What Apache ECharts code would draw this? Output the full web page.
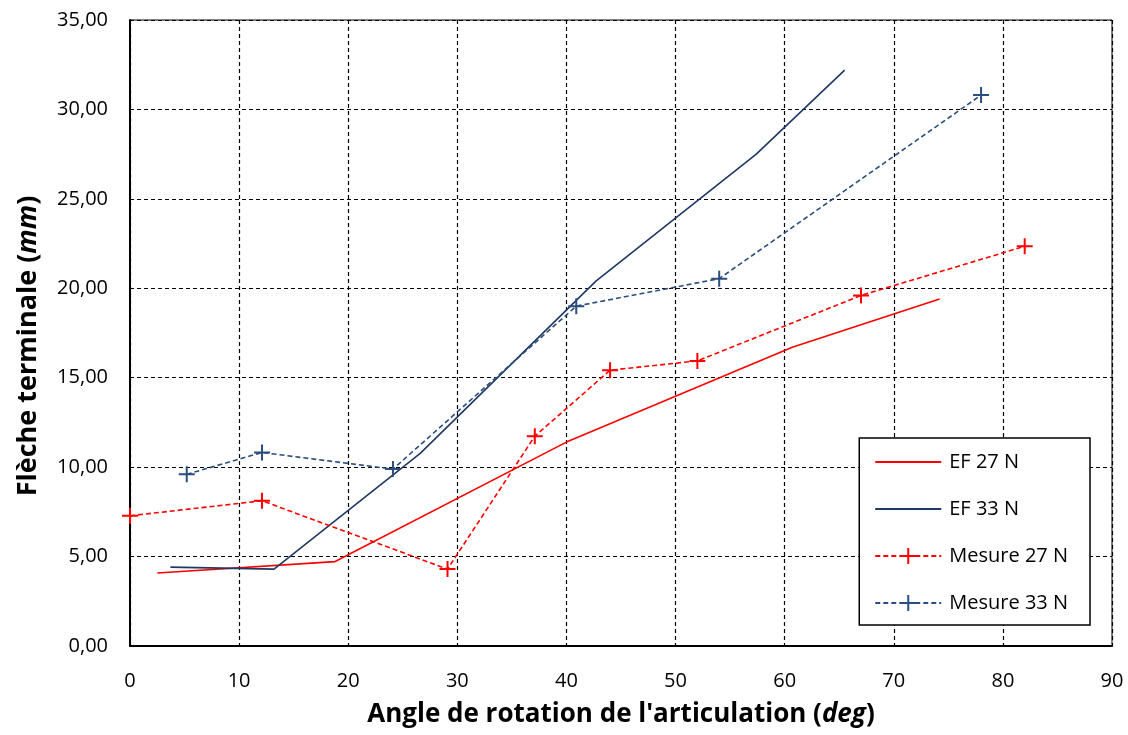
<!DOCTYPE html>
<html>
<head>
<meta charset="utf-8">
<script src="https://cdn.jsdelivr.net/npm/echarts@6/dist/echarts.min.js"></script>
<style>
html, body { margin: 0; padding: 0; background: #fff; }
#chart { width: 1128px; height: 735px; }
</style>
</head>
<body>
<div id="chart"></div>
<script>
// valeurs : [angle (deg), flèche (mm)]
var ef27 = [[2.5, 4.08], [18.8, 4.72], [40, 11.4], [60.7, 16.7], [74.2, 19.4]];
var ef33 = [[3.7, 4.41], [13.2, 4.3], [26.6, 10.77], [42.7, 20.4], [57.4, 27.5], [65.5, 32.2]];
var mesure27 = [[0, 7.28], [12.1, 8.12], [29.1, 4.3], [37.1, 11.73], [44.0, 15.42], [52.0, 15.94], [67.0, 19.6], [82.0, 22.35]];
var mesure33 = [[5.2, 9.6], [12.1, 10.82], [24.1, 9.89], [40.9, 19.0], [54.0, 20.54], [78.0, 30.8]];

var seriesNames = ['EF 27 N', 'EF 33 N', 'Mesure 27 N', 'Mesure 33 N'];
var xTicks = { min: 0, max: 90, interval: 10 };
var yTicks = { min: 0, max: 35, interval: 5 };

var red = '#ff0000';
var navy = '#1f3864';
var navy2 = '#2a4e7e';
var font = '"Open Sans", sans-serif';

var chart = echarts.init(document.getElementById('chart'));

//style commun des séries
function courbe(name, data, color, dashed) {
    return {
        name: name,
        type: 'line',
        data: data,
        showSymbol: dashed,
        symbol: dashed ? 'path://M0,5 L10,5 M5,0 L5,10' : 'none',
        symbolSize: 16,
        itemStyle: { color: 'rgba(0,0,0,0)', borderColor: color, borderWidth: 2 },
        lineStyle: { color: color, width: 1.6, type: dashed ? [5, 3] : 'solid' },
        emphasis: { disabled: true },
        animation: false
    };
}

//légende : pas de symbole pour les courbes EF
var legendData = seriesNames.map(function (n, i) {
    return i < 2 ? { name: n, itemStyle: { opacity: 0 } } : { name: n };
});

function titleRich(size) {
    return {
        b: { fontSize: size, fontWeight: 'bold', color: '#000', fontFamily: font },
        i: { fontSize: size, fontWeight: 'bold', fontStyle: 'italic', color: '#000', fontFamily: font }
    };
}

var option = {
    backgroundColor: '#fff',
    textStyle: { fontFamily: font },
    grid: {
        left: 130, right: 16, top: 20, bottom: 89,
        show: true, borderColor: '#000', borderWidth: 1
    },
    legend: {
        orient: 'vertical',
        right: 38, top: 438,
        data: legendData,
        backgroundColor: '#fff',
        borderColor: '#000', borderWidth: 1.5,
        padding: [14, 22, 12, 15],
        itemGap: 27,
        itemWidth: 66, itemHeight: 20,
        textStyle: { fontSize: 20, color: '#000', fontFamily: font, padding: [0, 0, 0, 3] }
    },
    xAxis: {
        type: 'value',
        min: xTicks.min, max: xTicks.max, interval: xTicks.interval,
        name: '{b|Angle de rotation de l\'articulation (}{i|deg}{b|)}',
        nameLocation: 'middle',
        nameGap: 56,
        nameTextStyle: { rich: titleRich(26) },
        axisLine: { show: true, onZero: false, lineStyle: { color: '#000', width: 2 } },
        axisTick: { show: false },
        axisLabel: { fontSize: 20, color: '#000', margin: 25 },
        splitLine: { show: true, lineStyle: { color: '#000', type: [4, 3], width: 1.2 } }
    },
    yAxis: {
        type: 'value',
        min: yTicks.min, max: yTicks.max, interval: yTicks.interval,
        name: '{b|Flèche terminale (}{i|mm}{b|)}',
        nameLocation: 'middle',
        nameGap: 88,
        nameTextStyle: { rich: titleRich(27), padding: [0, 26, 0, 0] },
        axisLine: { show: true, onZero: false, lineStyle: { color: '#000', width: 2 } },
        axisTick: { show: false },
        axisLabel: {
            fontSize: 20, color: '#000', margin: 22,
            formatter: function (v) { return v.toFixed(2).replace('.', ','); }
        },
        splitLine: { show: true, lineStyle: { color: '#000', type: [4, 3], width: 1.2 } }
    },
    series: [
        courbe(seriesNames[0], ef27, red, false),
        courbe(seriesNames[1], ef33, navy, false),
        courbe(seriesNames[2], mesure27, red, true),
        courbe(seriesNames[3], mesure33, navy2, true)
    ]
};
chart.setOption(option);
</script>
</body>
</html>
